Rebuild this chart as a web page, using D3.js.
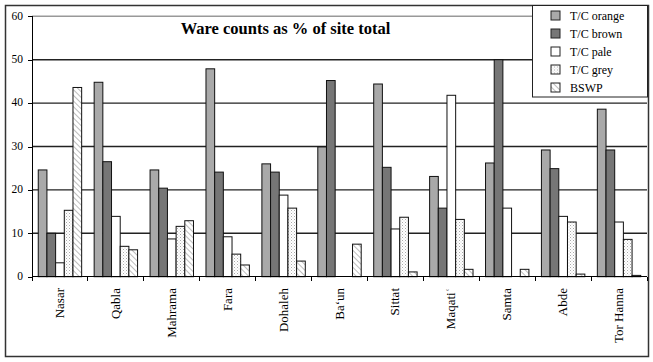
<!DOCTYPE html>
<html lang="en">
<head>
    <meta charset="UTF-8">
    <script src="https://cdnjs.cloudflare.com/ajax/libs/d3/7.8.5/d3.min.js"></script>
    <style>
body {
  margin: 0;
  background: white;
  font-family: "Liberation Serif", serif;
}
.axis path,
.axis line {
  fill: none;
  stroke: #000;
  shape-rendering: crispEdges;
}
.grid line {
  stroke: #222;
  stroke-width: 1.4;
}
.bar {
  stroke: #111;
  stroke-width: 1;
}
    </style>
    <title>Ware counts</title>
</head>
<body>
    <script>
var sites = ["Nasar", "Qabla", "Mahrama", "Fara", "Dohaleh", "Ba\u2018un", "Sittat", "Maqati\u02bf", "Samta", "Abde", "Tor Hanna"];
var seriesNames = ["T/C orange", "T/C brown", "T/C pale", "T/C grey", "BSWP"];

var tcOrange = [24.6, 44.8, 24.6, 47.9, 26.0, 29.9, 44.4, 23.1, 26.2, 29.2, 38.6];
var tcBrown  = [10.0, 26.5, 20.4, 24.1, 24.1, 45.2, 25.2, 15.8, 50.0, 24.9, 29.2];
var tcPale   = [3.2, 13.9, 8.7, 9.2, 18.8, 0, 11.0, 41.8, 15.8, 13.9, 12.6];
var tcGrey   = [15.3, 7.0, 11.6, 5.2, 15.8, 0, 13.7, 13.2, 0, 12.6, 8.6];
var bswp     = [43.6, 6.2, 12.9, 2.7, 3.6, 7.5, 1.1, 1.7, 1.7, 0.6, 0.3];

var yTicks = [0, 10, 20, 30, 40, 50, 60];

var allSeries = [tcOrange, tcBrown, tcPale, tcGrey, bswp];
var fills = ["#a9a9a9", "#767676", "#fff", "url(#dots)", "url(#hatch)"];

var W = 653, H = 362;
var plotLeft = 32, plotRight = 647, plotTop = 16.3, plotBottom = 276.7;

var svg = d3.select("body").append("svg")
    .attr("width", W)
    .attr("height", H);

// patterns
var defs = svg.append("defs");
var dots = defs.append("pattern")
    .attr("id", "dots")
    .attr("patternUnits", "userSpaceOnUse")
    .attr("width", 3)
    .attr("height", 3);
dots.append("rect").attr("width", 3).attr("height", 3).attr("fill", "#fff");
dots.append("rect").attr("x", 0).attr("y", 0).attr("width", 1).attr("height", 1).attr("fill", "#aaa");
dots.append("rect").attr("x", 1.5).attr("y", 1.5).attr("width", 1).attr("height", 1).attr("fill", "#ccc");

var hatch = defs.append("pattern")
    .attr("id", "hatch")
    .attr("patternUnits", "userSpaceOnUse")
    .attr("width", 4)
    .attr("height", 4)
    .attr("patternTransform", "rotate(-45)");
hatch.append("rect").attr("width", 4).attr("height", 4).attr("fill", "#fff");
hatch.append("line")
    .attr("x1", 0).attr("y1", 0).attr("x2", 0).attr("y2", 4)
    .attr("stroke", "#999").attr("stroke-width", 1.3);

// outer frame
svg.append("rect")
    .attr("x", 5.5)
    .attr("y", 5.5)
    .attr("width", 643)
    .attr("height", 351)
    .attr("fill", "white")
    .attr("stroke", "#333")
    .attr("stroke-width", 1.5);

var x0 = d3.scaleBand()
    .domain(sites)
    .range([plotLeft, plotRight]);

var x1 = d3.scaleBand()
    .domain(seriesNames)
    .range([0, x0.bandwidth()])
    .paddingOuter(0.72);

var y = d3.scaleLinear()
    .domain([0, 60])
    .range([plotBottom, plotTop]);

// gridlines
svg.append("g")
    .attr("class", "grid")
    .selectAll("line")
    .data(yTicks.filter(d => d > 0))
    .enter().append("line")
    .attr("x1", plotLeft)
    .attr("x2", plotRight)
    .attr("y1", d => y(d))
    .attr("y2", d => y(d))
    .style("stroke", d => d == 60 ? "#999" : "#222");

// bars
var rows = [];
sites.forEach((s, i) => {
  seriesNames.forEach((k, j) => {
    if (allSeries[j][i] > 0) rows.push({site: s, key: k, value: allSeries[j][i], idx: j});
  });
});

svg.selectAll(".bar")
    .data(rows)
    .enter().append("rect")
    .attr("class", "bar")
    .attr("x", d => x0(d.site) + x1(d.key))
    .attr("y", d => y(d.value))
    .attr("width", x1.bandwidth())
    .attr("height", d => y(0) - y(d.value))
    .style("fill", d => fills[d.idx]);

// axes
var yAxis = d3.axisLeft(y).tickValues(yTicks).tickSize(4).tickPadding(5);
svg.append("g")
    .attr("class", "y axis")
    .attr("transform", "translate(" + plotLeft + ",0)")
    .call(yAxis)
    .call(g => g.select(".domain").attr("d", "M0," + plotTop + "V" + plotBottom))
    .selectAll("text")
    .style("font-family", "Liberation Serif")
    .style("font-size", "11.5px")
    .attr("dy", "0.25em");

var xAxis = d3.axisBottom(x0).tickSize(0).tickFormat("");
var xg = svg.append("g")
    .attr("class", "x axis")
    .attr("transform", "translate(0," + plotBottom + ")")
    .call(xAxis);
xg.select(".domain").attr("d", "M" + plotLeft + ",0H" + plotRight);
xg.selectAll(".sep")
    .data(sites.concat(["end"]))
    .enter().append("line")
    .attr("class", "sep")
    .attr("x1", (d, i) => plotLeft + i * x0.step())
    .attr("x2", (d, i) => plotLeft + i * x0.step())
    .attr("y1", 0)
    .attr("y2", 4);

svg.selectAll(".xlabel")
    .data(sites)
    .enter().append("text")
    .attr("class", "xlabel")
    .attr("transform", d => "translate(" + (x0(d) + x0.bandwidth() / 2 + 4) + ",288) rotate(-90)")
    .attr("text-anchor", "end")
    .style("font-size", "13px")
    .text(d => d);

// title
svg.append("text")
    .attr("x", 285.5)
    .attr("y", 34)
    .attr("text-anchor", "middle")
    .style("font-size", "16.5px")
    .style("font-weight", "bold")
    .text("Ware counts as % of site total");

// legend
svg.append("rect")
    .attr("x", 532.5)
    .attr("y", 5.5)
    .attr("width", 115)
    .attr("height", 91.5)
    .attr("fill", "white")
    .attr("stroke", "#222")
    .attr("stroke-width", 1);

var legend = svg.selectAll(".legend")
    .data(seriesNames)
    .enter().append("g")
    .attr("class", "legend")
    .attr("transform", (d, i) => "translate(551," + (15.5 + i * 18) + ")");

legend.append("rect")
    .attr("x", 0)
    .attr("y", -4.5)
    .attr("width", 9)
    .attr("height", 9)
    .attr("stroke", "#222")
    .style("fill", (d, i) => fills[i]);

legend.append("text")
    .attr("x", 19)
    .attr("y", 0)
    .attr("dy", "0.35em")
    .style("font-size", "12px")
    .text(d => d);
    </script>
</body>
</html>
